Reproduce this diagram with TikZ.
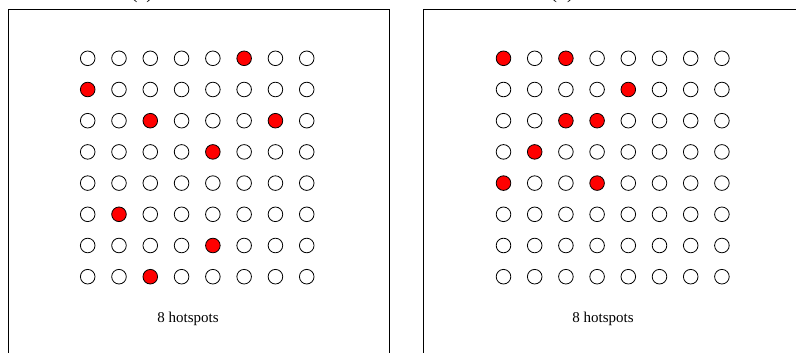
\documentclass[tikz,border=0pt]{standalone}
\usepackage{fontspec}
\setmainfont{Liberation Serif}
\begin{document}
\begin{tikzpicture}[x=1pt,y=-1pt,
  dot/.style={circle,draw=black,line width=0.8pt,minimum size=14.6pt,inner sep=0pt,fill=white},
  hot/.style={dot,fill=red},
  frame/.style={draw=black,line width=1pt},
  caption/.style={font=\fontsize{15}{18}\selectfont,anchor=base,inner sep=0pt},
  sublabel/.style={font=\fontsize{20}{24}\selectfont,anchor=base,inner sep=0pt}]
\useasboundingbox (0,0) rectangle (796,353);
\clip (0,0) rectangle (796,353);
% frames
\draw[frame] (8,360) -- (8,10) -- (389,10) -- (389,360);
\draw[frame] (423,360) -- (423,10) -- (800,10);
% sub-figure labels (cut off at top)
\node[sublabel] (labA) at (142,-1.4) {(a)};
\node[sublabel] (labB) at (562,-1.4) {(b)};
% hotspot lists
\foreach \p in {0-5,1-0,2-2,2-6,3-4,5-1,6-4,7-2} {\expandafter\gdef\csname hotL\p\endcsname{}}
\foreach \p in {0-0,0-2,1-4,2-2,2-3,3-1,4-0,4-3} {\expandafter\gdef\csname hotR\p\endcsname{}}
% left grid
\foreach \r in {0,...,7} {
  \foreach \c in {0,...,7} {
    \ifcsname hotL\r-\c\endcsname\def\st{hot}\else\def\st{dot}\fi
    \node[\st] (L-\r-\c) at ({87.7+31.29*\c},{58.3+31.2*\r}) {};
  }
}
% right grid
\foreach \r in {0,...,7} {
  \foreach \c in {0,...,7} {
    \ifcsname hotR\r-\c\endcsname\def\st{hot}\else\def\st{dot}\fi
    \node[\st] (R-\r-\c) at ({503.5+31.2*\c},{58.3+31.2*\r}) {};
  }
}
% captions
\node[caption] (capL) at (188,322.5) {8 hotspots};
\node[caption] (capR) at (603,322.5) {8 hotspots};
\end{tikzpicture}
\end{document}
